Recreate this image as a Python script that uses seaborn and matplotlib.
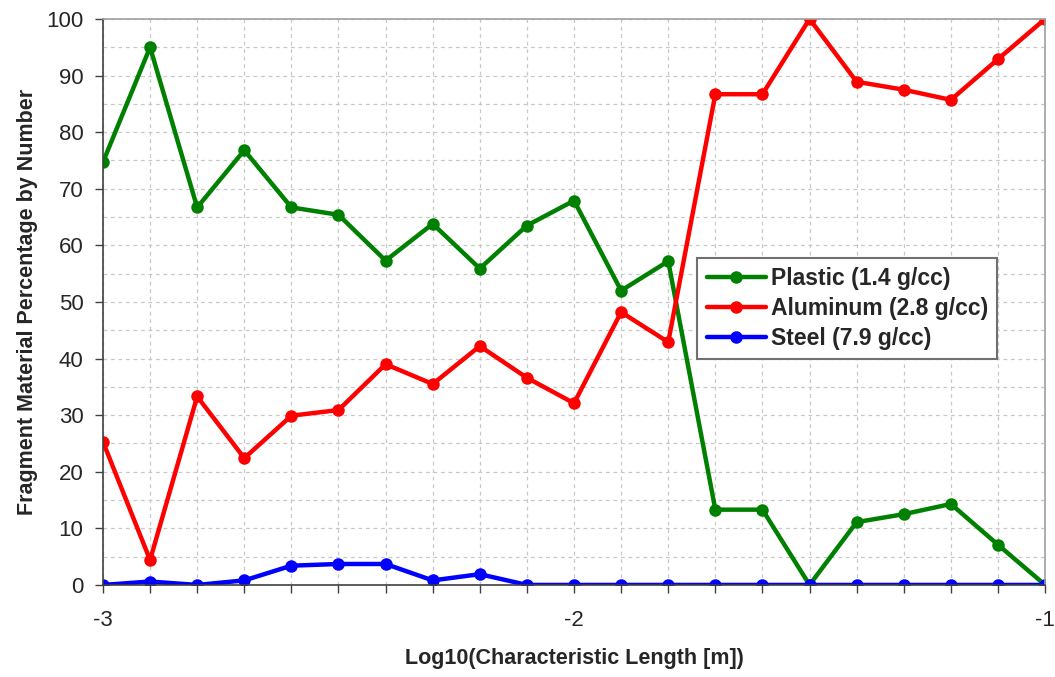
import numpy as np
import pandas as pd
import matplotlib
matplotlib.use("Agg")
import matplotlib.pyplot as plt
import seaborn as sns

# log10 characteristic length bins (first one lies just off the left edge)
log_len = [-3.1, -3.0, -2.9, -2.8, -2.7, -2.6, -2.5, -2.4, -2.3, -2.2, -2.1,
           -2.0, -1.9, -1.8, -1.7, -1.6, -1.5, -1.4, -1.3, -1.2, -1.1, -1.0]

plastic = [90.0, 74.7, 95.0, 66.7, 76.8, 66.7, 65.4, 57.3, 63.8, 55.9, 63.5,
           67.9, 52.0, 57.2, 13.3, 13.3, 0.0, 11.1, 12.5, 14.3, 7.1, 0.0]
aluminum = [10.0, 25.3, 4.4, 33.3, 22.4, 29.9, 30.9, 39.0, 35.5, 42.2, 36.6,
            32.1, 48.2, 42.9, 86.7, 86.7, 100.0, 88.9, 87.5, 85.7, 92.9, 100.0]
steel = [0.0, 0.0, 0.6, 0.0, 0.8, 3.4, 3.7, 3.7, 0.8, 1.9, 0.0,
         0.0, 0.0, 0.0, 0.0, 0.0, 0.0, 0.0, 0.0, 0.0, 0.0, 0.0]

names = ["Plastic (1.4 g/cc)", "Aluminum (2.8 g/cc)", "Steel (7.9 g/cc)"]
colors = ["#008000", "#ff0000", "#0000ff"]

df = pd.concat([
    pd.DataFrame({"x": log_len, "pct": vals, "material": name})
    for name, vals in zip(names, [plastic, aluminum, steel])
])

sns.set_style("white")
plt.rcParams["font.family"] = ["Liberation Sans", "DejaVu Sans"]

fig = plt.figure(figsize=(10.55, 6.77), dpi=100)
ax = fig.add_axes([0.0976, 0.136, 0.893, 0.836])

sns.lineplot(data=df, x="x", y="pct", hue="material", palette=colors,
             marker="o", markersize=9, markeredgewidth=0, linewidth=3.2,
             ax=ax, legend=True)

ax.set_xlim(-3, -1)
ax.set_ylim(0, 100)
ax.set_xticks([-3, -2, -1])
ax.set_xticklabels(["-3", "-2", "-1"])
ax.set_xticks(np.round(np.arange(-3, -0.95, 0.1), 1), minor=True)
ax.set_yticks(range(0, 101, 10))
ax.set_yticks(range(0, 101, 5), minor=True)
ax.grid(True, which="both", color="#c8c8c8", linestyle=(0, (3, 3)), linewidth=0.9)
ax.set_axisbelow(True)

ax.tick_params(axis="both", which="major", direction="out", length=6,
               width=1, color="#404040", labelsize=16, pad=8,
               bottom=True, left=True)
ax.tick_params(axis="x", which="minor", direction="out", length=6,
               width=1, color="#404040", bottom=True)
ax.tick_params(axis="y", which="minor", length=0)
ax.tick_params(axis="x", which="major", pad=12)

for side in ["left", "bottom"]:
    ax.spines[side].set_color("#404040")
    ax.spines[side].set_linewidth(1.2)
for side in ["top", "right"]:
    ax.spines[side].set_color("#a0a0a0")
    ax.spines[side].set_linewidth(1.2)

ax.set_xlabel("Log10(Characteristic Length [m])", fontsize=15.5, fontweight="bold", labelpad=12)
ax.set_ylabel("Fragment Material Percentage by Number", fontsize=15.5, fontweight="bold", labelpad=6)

leg = ax.legend(loc="upper left", bbox_to_anchor=(0.631, 0.578),
                prop={"weight": "bold", "size": 16.5}, frameon=True, fancybox=False,
                handlelength=2.6, borderpad=0.4, labelspacing=0.3, handletextpad=0.2,
                borderaxespad=0)
leg.get_frame().set_edgecolor("#707070")
leg.get_frame().set_linewidth(1.5)
leg.get_frame().set_alpha(1)

plt.savefig("out.png", dpi=100)
